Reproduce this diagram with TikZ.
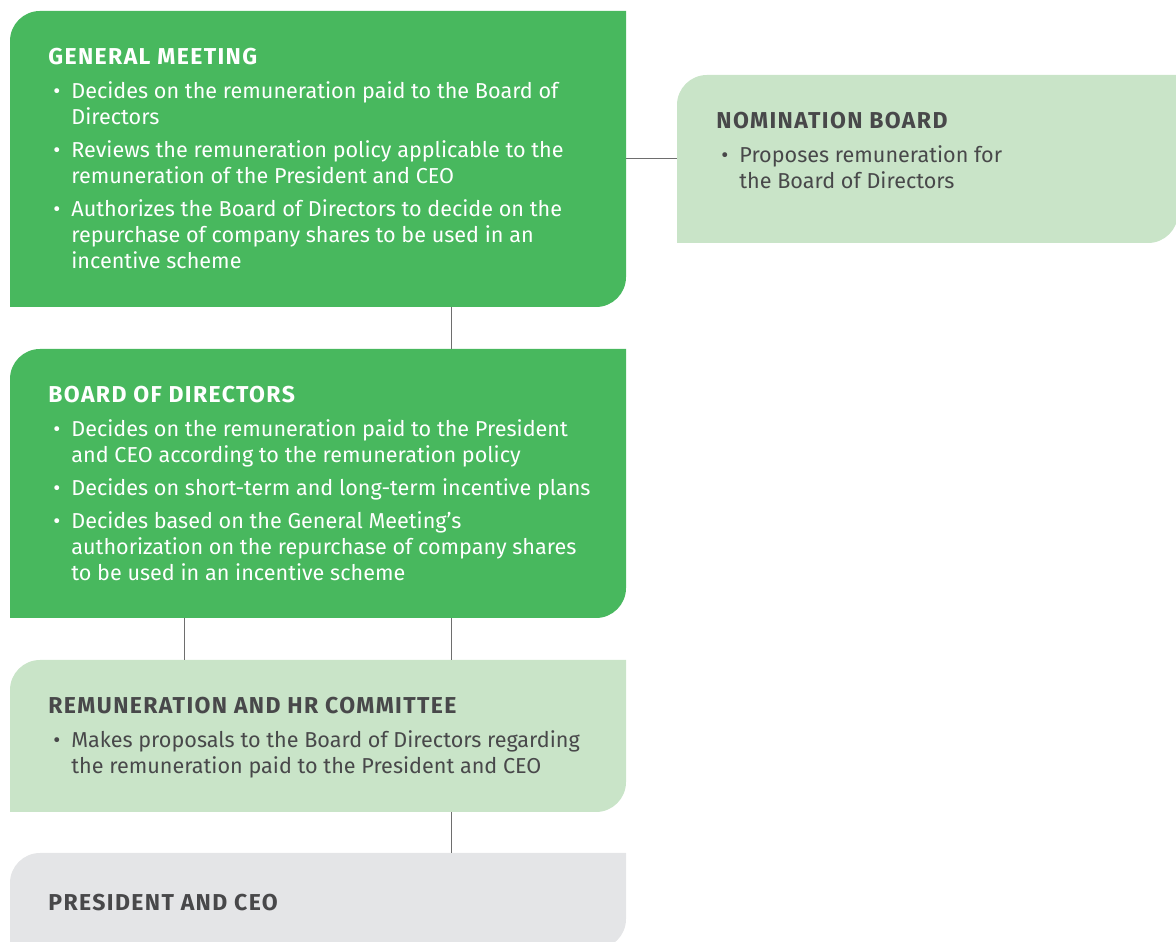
\documentclass[tikz,border=0pt]{standalone}
\usepackage{fontspec}
\setmainfont{Fira Sans}
\newfontfamily\headfont[LetterSpace=6]{Fira Sans}
\usetikzlibrary{positioning}
\definecolor{darkgreen}{HTML}{48B85E}
\definecolor{palegreen}{HTML}{C9E4C8}
\definecolor{palegrey}{HTML}{E4E5E7}
\definecolor{inkgrey}{HTML}{48484A}
\definecolor{linegrey}{HTML}{6E6E6E}
\def\tabshape[#1](#2){\fill[#1] ([yshift=-15pt]#2.north west) arc (180:90:15pt) -- (#2.north east) -- ([yshift=15pt]#2.south east) arc (0:-90:15pt) -- (#2.south west) -- cycle;}
\newcommand\itm[1]{\makebox[11.5pt][l]{\hspace{2.5pt}\textbullet}#1}
\newcommand\cnt[1]{\hspace*{11.5pt}#1}
\newcommand\ttl[1]{{\fontsize{11.5}{13}\headfont\bfseries #1}}
\tikzset{
	panel/.style={rectangle, draw=none, inner sep=0pt, outer sep=0pt, anchor=north west},
	txt/.style={inner sep=0pt, align=left, font=\fontsize{10.8}{13}\selectfont},
	link/.style={draw=linegrey, line width=0.5pt}
}

\begin{document}
\begin{tikzpicture}[x=1pt, y=1pt]
			%%%%% START %%%%%
			\useasboundingbox (0, 0) rectangle (588, 470.5);
			
			\node[panel, minimum width=308pt, minimum height=148pt] (gm) at (5, 465) {};
			\node[panel, minimum width=250.5pt, minimum height=84pt] (nb) at (338.5, 433) {};
			\node[panel, minimum width=308pt, minimum height=134.5pt] (bd) at (5, 296) {};
			\node[panel, minimum width=308pt, minimum height=76pt] (rm) at (5, 140.5) {};
			\node[panel, minimum width=308pt, minimum height=48pt] (pc) at (5, 44) {};
			
			\tabshape[darkgreen](gm)
			\tabshape[palegreen](nb)
			\tabshape[darkgreen](bd)
			\tabshape[palegreen](rm)
			\tabshape[palegrey](pc)
			
			\draw[link] (gm.east) -- (nb.west);
			\draw[link] ([xshift=220.5pt]gm.south west) -- ([xshift=220.5pt]bd.north west);
			\draw[link] ([xshift=87pt]bd.south west) -- ([xshift=87pt]rm.north west);
			\draw[link] ([xshift=220.5pt]bd.south west) -- ([xshift=220.5pt]rm.north west);
			\draw[link] ([xshift=220.5pt]rm.south west) -- ([xshift=220.5pt]pc.north west);
			
			\node[txt, text=white, below right=18.5pt and 19pt of gm.north west] (gmtext) {\ttl{GENERAL MEETING}\\[4pt]
				\itm{Decides on the remuneration paid to the Board of}\\
				\cnt{Directors}\\[3.5pt]
				\itm{Reviews the remuneration policy applicable to the}\\
				\cnt{remuneration of the President and CEO}\\[3.5pt]
				\itm{Authorizes the Board of Directors to decide on the}\\
				\cnt{repurchase of company shares to be used in an}\\
				\cnt{incentive scheme}};
			
			\node[txt, text=inkgrey, below right=18.5pt and 19.5pt of nb.north west] (nbtext) {\ttl{NOMINATION BOARD}\\[4pt]
				\itm{Proposes remuneration for}\\
				\cnt{the Board of Directors}};
			
			\node[txt, text=white, below right=18.5pt and 19pt of bd.north west] (bdtext) {\ttl{BOARD OF DIRECTORS}\\[4pt]
				\itm{Decides on the remuneration paid to the President}\\
				\cnt{and CEO according to the remuneration policy}\\[3.5pt]
				\itm{Decides on short-term and long-term incentive plans}\\[3.5pt]
				\itm{Decides based on the General Meeting’s}\\
				\cnt{authorization on the repurchase of company shares}\\
				\cnt{to be used in an incentive scheme}};
			
			\node[txt, text=inkgrey, below right=18.5pt and 19pt of rm.north west] (rmtext) {\ttl{REMUNERATION AND HR COMMITTEE}\\[4pt]
				\itm{Makes proposals to the Board of Directors regarding}\\
				\cnt{the remuneration paid to the President and CEO}};
			
			\node[txt, text=inkgrey, below right=20.5pt and 19pt of pc.north west] (pctext) {\ttl{PRESIDENT AND CEO}};
			
			%%%%% END %%%%%
\end{tikzpicture}
\end{document}
